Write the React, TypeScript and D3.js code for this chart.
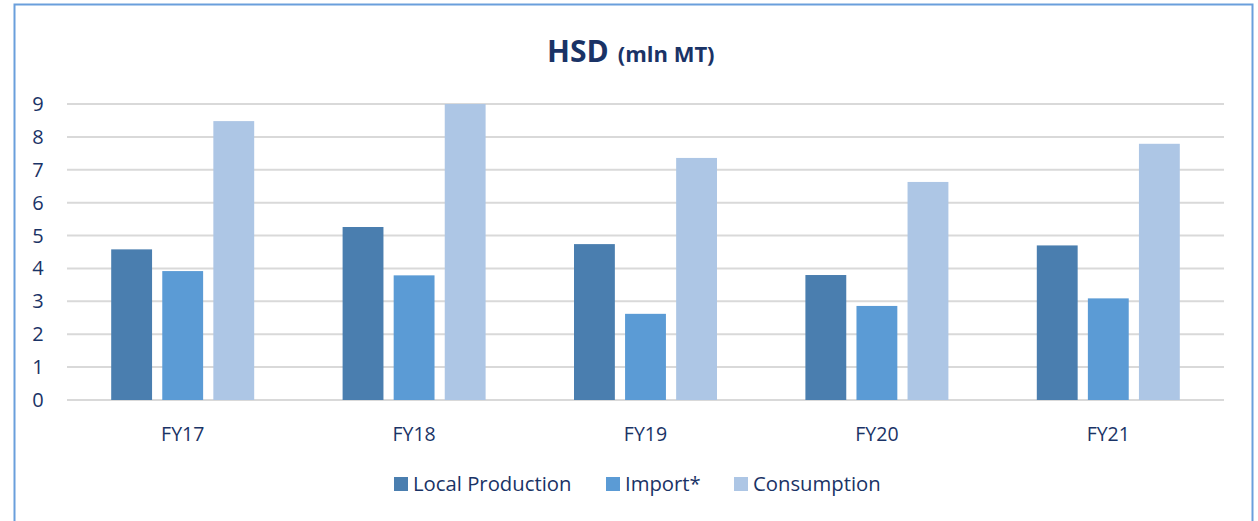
import React from "react";
import * as d3 from "d3";

const categories = ["FY17", "FY18", "FY19", "FY20", "FY21"];
const seriesNames = ["Local Production", "Import*", "Consumption"];
const localProduction = [4.58, 5.26, 4.74, 3.8, 4.7];
const importVals = [3.92, 3.79, 2.62, 2.86, 3.09];
const consumption = [8.48, 9.0, 7.36, 6.63, 7.79];
const yTicks = [0, 1, 2, 3, 4, 5, 6, 7, 8, 9];
const colors = ["#4A7EAF", "#5B9BD5", "#ADC6E5"];

const W = 1258;
const H = 521;
const textColor = "#1A3366";
const font = "'Open Sans', sans-serif";

export default function App() {
  const x0 = d3.scaleBand<string>().domain(categories).range([67, 1224]).paddingInner(0).paddingOuter(0);
  const x1 = d3.scaleBand<string>().domain(seriesNames).range([0, 143]).paddingInner(0.2).paddingOuter(0);
  const y = d3.scaleLinear().domain([0, 9]).range([400, 104]);
  const series = [localProduction, importVals, consumption];
  const groupOffset = (x0.bandwidth() - 143) / 2;

  const legendItems = [
    { name: seriesNames[0], sx: 394, tx: 413 },
    { name: seriesNames[1], sx: 606, tx: 625 },
    { name: seriesNames[2], sx: 734, tx: 753 },
  ];

  return (
    <svg width={W} height={H} style={{ position: "absolute", left: 0, top: 0, background: "#fff" }}>
      <rect x={0} y={0} width={W} height={H} fill="#fff" />
      {/* border */}
      <path d={`M14.5,${H + 2} L14.5,4.5 L1252.5,4.5 L1252.5,${H + 2}`} fill="none" stroke="#6A9FDC" strokeWidth={2} />
      {/* title */}
      <text x={547} y={62} textAnchor="start" fill={textColor} fontFamily={font} fontWeight="bold">
        <tspan fontSize={30}>HSD</tspan>
        <tspan fontSize={22} dx={9}>(mln MT)</tspan>
      </text>
      {/* gridlines */}
      {yTicks.map((t) => (
        <line key={t} x1={67} x2={1224} y1={y(t)} y2={y(t)} stroke="#D9D9D9" strokeWidth={2} />
      ))}
      {yTicks.map((t) => (
        <text key={"l" + t} x={38} y={y(t) + 7} textAnchor="middle" fontSize={20} fill={textColor} fontFamily={font}>
          {t}
        </text>
      ))}
      {/* bars */}
      {categories.map((c, i) => (
        <g key={c} transform={`translate(${(x0(c) as number) + groupOffset},0)`}>
          {seriesNames.map((s, j) => (
            <rect
              key={s}
              x={x1(s) as number}
              y={y(series[j][i])}
              width={x1.bandwidth()}
              height={y(0) - y(series[j][i])}
              fill={colors[j]}
            />
          ))}
        </g>
      ))}
      {/* category labels */}
      {categories.map((c) => (
        <text
          key={"c" + c}
          x={(x0(c) as number) + x0.bandwidth() / 2}
          y={441}
          textAnchor="middle"
          fontSize={19.5}
          fill={textColor}
          fontFamily={font}
        >
          {c}
        </text>
      ))}
      {/* legend */}
      {legendItems.map((l, i) => (
        <g key={l.name}>
          <rect x={l.sx} y={477} width={14} height={14} fill={colors[i]} />
          <text x={l.tx} y={491} fontSize={20.3} fill={textColor} fontFamily={font}>
            {l.name}
          </text>
        </g>
      ))}
    </svg>
  );
}
